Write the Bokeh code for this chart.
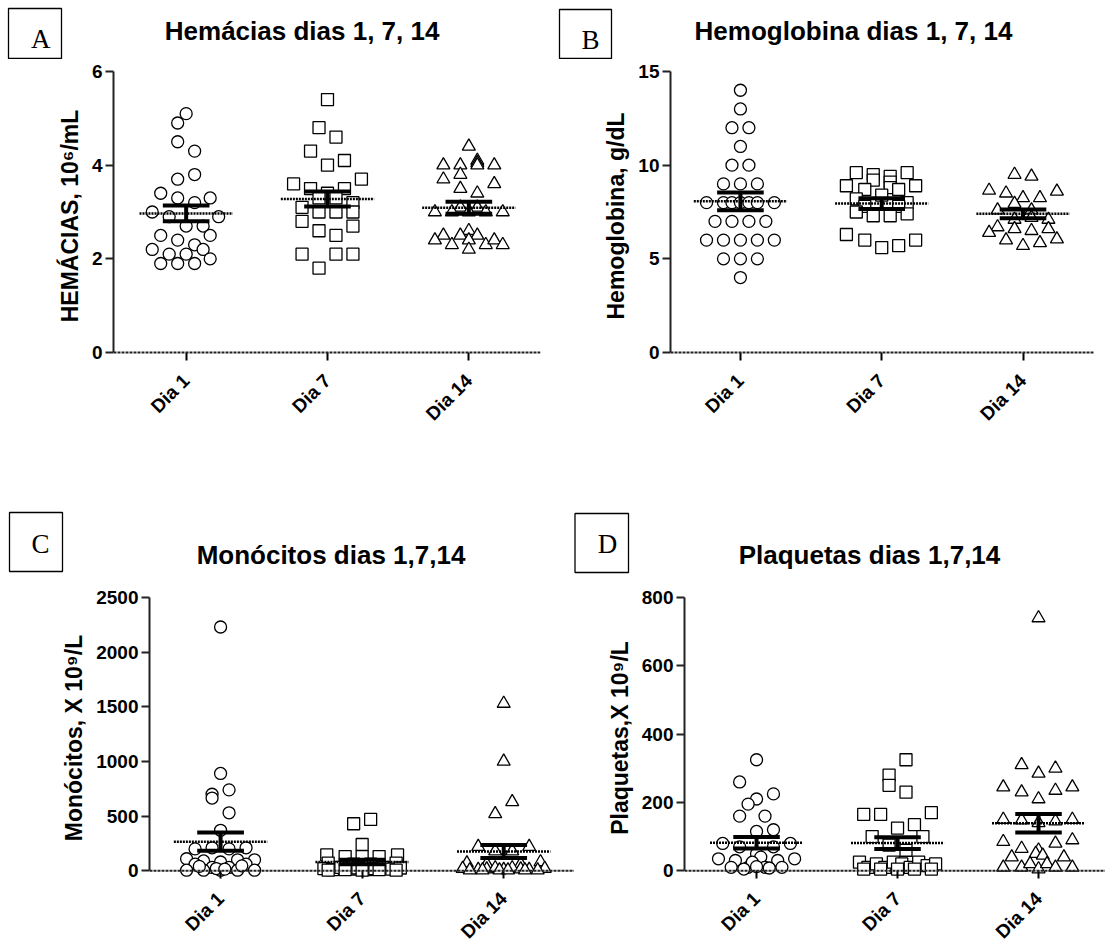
import math
from bokeh.plotting import figure
from bokeh.models import Range1d, FixedTicker, Span
from bokeh.layouts import column, row
from bokeh.core.properties import value
from bokeh.embed import file_html
from bokeh.resources import INLINE

categories = ["Dia 1", "Dia 7", "Dia 14"]

# ---------------- Panel A: Hemácias (10^6/mL) ----------------
hem_d1 = [5.1, 4.9, 4.5, 4.3, 3.8, 3.7, 3.4, 3.3, 3.3, 3.2, 3.0, 2.9, 2.9, 2.7, 2.7,
          2.5, 2.5, 2.4, 2.3, 2.2, 2.2, 2.1, 2.1, 2.0, 1.9, 1.9, 1.9]
hem_d1_jit = [0, -0.06, -0.06, 0.06, 0.06, -0.06, -0.18, -0.06, 0.17, 0.06, -0.24, -0.12, 0.23, 0, 0.12,
              -0.18, 0.17, -0.06, 0.06, -0.24, 0.12, -0.12, 0, 0.17, -0.18, -0.06, 0.06]
hem_d7 = [5.4, 4.8, 4.6, 4.3, 4.1, 4.0, 3.7, 3.6, 3.5, 3.5, 3.4, 3.3, 3.3, 3.2, 3.1, 3.0, 3.0, 3.0,
          2.8, 2.7, 2.6, 2.5, 2.1, 2.1, 2.1, 1.8]
hem_d7_jit = [0, -0.06, 0.06, -0.12, 0.12, 0, 0.24, -0.24, -0.12, 0.12, 0, -0.06, 0.06, 0.18, -0.18, -0.06, 0.06, 0.18,
              -0.18, 0.18, -0.06, 0.06, -0.18, 0.06, 0.18, -0.06]
hem_d14 = [4.4, 4.1, 4.05, 4.0, 4.0, 4.0, 4.0, 3.7, 3.8, 3.6, 3.5, 3.4, 3.1, 3.1, 3.0, 3.0, 3.0, 3.0, 3.0,
           2.5, 2.4, 2.6, 2.5, 2.5, 2.3, 2.4, 2.3, 2.4, 2.3, 2.2]
hem_d14_jit = [0, 0.06, 0.06, -0.18, -0.06, 0.06, 0.18, -0.18, -0.06, 0.18, -0.06, 0.06, -0.06, 0.06, -0.24, 0.24, -0.12, 0, 0.12,
               -0.18, -0.24, 0, -0.06, 0.06, -0.12, 0, 0.12, 0.18, 0.24, 0]
hem_mean = [2.97, 3.28, 3.09]
hem_sem = [0.17, 0.16, 0.13]

# ---------------- Panel B: Hemoglobina (g/dL) ----------------
hgb_d1 = [14, 13, 12, 12, 11, 10, 10, 9, 9, 9, 8, 8, 8, 8, 8, 8, 8, 7, 7, 7, 7, 6, 6, 6, 6, 6, 5, 5, 5, 4]
hgb_d1_jit = [0, 0, -0.06, 0.06, 0, -0.06, 0.06, -0.12, 0, 0.12, -0.24, -0.12, -0.06, 0, 0.06, 0.12, 0.24,
              -0.18, -0.06, 0.06, 0.18, -0.24, -0.12, 0, 0.12, 0.24, -0.12, 0, 0.12, 0]
hgb_d7 = [9.6, 9.5, 9.2, 9.4, 9.1, 8.8, 9.6, 8.9, 8.9, 8.7, 8.7, 8.4, 8.2, 8.0, 7.8, 7.8, 7.5, 7.4, 7.3, 7.3,
          6.3, 6.0, 5.6, 5.7, 6.0]
hgb_d7_jit = [-0.18, -0.06, -0.06, 0.06, 0.06, 0.06, 0.18, -0.25, 0.24, -0.12, 0.12, 0, -0.18, 0.18, -0.12, 0.12,
              -0.18, 0.18, -0.06, 0.06, -0.25, -0.12, 0, 0.12, 0.24]
hgb_d14 = [9.5, 9.4, 8.65, 8.5, 8.25, 8.25, 8.6, 7.95, 7.6, 7.6, 7.1, 7.2, 7.1, 6.7, 6.6, 6.5, 6.6, 6.4,
           6.0, 5.7, 5.85, 6.05]
hgb_d14_jit = [-0.06, 0.06, -0.24, -0.12, 0, 0.12, 0.24, -0.06, -0.18, 0.06, -0.06, 0.06, 0.18, -0.18, -0.06, 0.06, 0.18, -0.24,
               -0.12, 0, 0.12, 0.24]
hgb_mean = [8.07, 7.95, 7.40]
hgb_sem = [0.47, 0.29, 0.23]

# ---------------- Panel C: Monócitos (x 10^9/L) ----------------
mono_d1 = [2230, 890, 700, 665, 740, 530, 370, 200, 210, 200, 210, 110, 90, 80, 100, 100, 60, 60, 30, 30,
           5, 5, 5, 5, 5, 20, 15, 40, 45]
mono_d1_jit = [0, 0, -0.06, -0.06, 0.06, 0.06, 0, -0.18, -0.06, 0.06, 0.18, -0.24, -0.12, 0, 0.12, 0.24, -0.18, 0.18, -0.06, 0.06,
               -0.24, -0.12, 0, 0.12, 0.24, -0.03, 0.03, -0.15, 0.15]
mono_d7 = [430, 470, 240, 145, 130, 130, 130, 145, 70, 70, 60, 60, 20, 10, 30, 15, 25, 10, 20, 30, 15, 25,
           5, 10, 5, 10, 5]
mono_d7_jit = [-0.06, 0.06, 0, -0.25, -0.12, 0, 0.12, 0.25, -0.24, 0.24, -0.06, 0.06, -0.27, -0.21, -0.15, -0.09, -0.03, 0.03,
               0.09, 0.15, 0.21, 0.27, -0.24, -0.12, 0, 0.12, 0.24]
mono_d14 = [1530, 1000, 630, 520, 220, 220, 180, 180, 70, 80, 60, 60, 20, 10, 15, 25, 10, 25, 15, 10, 20,
            5, 5, 5, 5, 5, 5]
mono_d14_jit = [0, 0, 0.06, -0.06, -0.18, 0.18, -0.06, 0.06, -0.26, 0.26, -0.12, 0.12, -0.29, -0.18, -0.12, -0.06, 0, 0.06,
                0.12, 0.18, 0.29, -0.24, -0.15, -0.03, 0.03, 0.15, 0.24]
mono_mean = [266, 80, 176]
mono_sem = [84, 20, 60]

# ---------------- Panel D: Plaquetas (x 10^9/L) ----------------
plq_d1 = [325, 260, 225, 210, 195, 160, 160, 115, 120, 80, 80, 70, 70, 50, 35, 35, 30, 30, 40, 10, 10, 10, 10,
          25, 5, 8, 12]
plq_d1_jit = [0, -0.12, 0.12, 0, -0.06, -0.12, 0.06, 0, 0.12, -0.24, 0.24, -0.12, 0.12, 0, -0.27, 0.27, -0.15, 0.15,
              0.03, -0.18, -0.06, 0.06, 0.18, -0.03, -0.09, 0.09, 0.0]
plq_d7 = [325, 280, 250, 230, 165, 165, 170, 135, 125, 100, 100, 75, 60, 25, 10, 20, 10, 25, 20, 10, 25, 15, 20,
          5, 5, 5, 5, 5]
plq_d7_jit = [0.06, -0.06, -0.06, 0.06, -0.24, -0.12, 0.24, 0.12, 0, -0.18, 0.18, -0.06, 0.06, -0.27, -0.21, -0.15, -0.09,
              -0.03, 0.03, 0.09, 0.15, 0.21, 0.27, -0.24, -0.12, 0, 0.12, 0.24]
plq_d14 = [740, 310, 300, 285, 245, 230, 235, 245, 210, 150, 148, 145, 150, 140, 85, 90, 80, 65, 60, 50, 45, 40, 40,
           10, 10, 20, 5, 20, 10, 10]
plq_d14_jit = [0, -0.12, 0.12, 0, -0.25, -0.12, 0.12, 0.24, 0, -0.25, -0.12, 0.12, 0.24, 0, -0.25, 0.24, 0.12, -0.12, 0,
               -0.02, 0.03, -0.19, 0.18, -0.25, -0.12, -0.06, 0, 0.06, 0.12, 0.24]
plq_mean = [82, 81, 139]
plq_sem = [17, 17, 27]

panel_titles = ["Hemácias dias 1, 7, 14", "Hemoglobina dias 1, 7, 14",
                "Monócitos dias 1,7,14", "Plaquetas dias 1,7,14"]
panel_letters = ["A", "B", "C", "D"]

FONT = "Liberation Sans"
MARKERS = ["circle", "square", "triangle"]
MSIZE = {"circle": 12, "square": 12, "triangle": 13}


def strip(W, H, titles, tpos, letters, lpos, boxes):
    """Full-width header strip (pixel coordinates): boxed panel letters + bold titles."""
    s = figure(width=W, height=H, x_range=Range1d(0, W), y_range=Range1d(H, 0),
               output_backend="svg", toolbar_location=None, min_border=0,
               x_axis_type=None, y_axis_type=None)
    s.outline_line_color = None
    s.grid.visible = False
    s.background_fill_color = "white"
    s.border_fill_color = "white"
    s.quad(left=[b[0] for b in boxes], right=[b[2] for b in boxes],
           top=[b[1] for b in boxes], bottom=[b[3] for b in boxes],
           fill_color="white", line_color="black", line_width=1.3)
    s.text(x=[p[0] for p in lpos], y=[p[1] for p in lpos], text=letters,
           text_align="center", text_baseline="middle",
           text_font=value("Liberation Serif"), text_font_size="27px", text_color="black")
    s.text(x=[p[0] for p in tpos], y=[p[1] for p in tpos], text=titles,
           text_align="center", text_baseline="middle",
           text_font=value(FONT), text_font_style="bold", text_font_size="26px", text_color="black")
    return s


def panel(ylabel, ytop, yticks, groups, jits, means, sems,
          W, H, mbl, mbr, mbt, mbb, xr, lstand):
    ext = 8
    frame_h = H - mbt - mbb
    ystart = -ytop * ext / (frame_h - ext)
    p = figure(width=W, height=H, x_range=Range1d(xr[0], xr[1]), y_range=Range1d(ystart, ytop),
               output_backend="svg", toolbar_location=None,
               min_border_left=mbl, min_border_right=mbr, min_border_top=mbt, min_border_bottom=mbb)
    p.outline_line_color = None
    p.grid.visible = False
    p.background_fill_color = "white"
    p.border_fill_color = "white"

    xa = p.xaxis[0]
    xa.ticker = FixedTicker(ticks=[1, 2, 3])
    xa.major_label_overrides = {1: categories[0], 2: categories[1], 3: categories[2]}
    xa.axis_line_color = None
    xa.major_tick_in = 8
    xa.major_tick_out = 0
    xa.major_tick_line_width = 2
    xa.major_tick_line_color = "black"
    xa.minor_tick_line_color = None
    xa.major_label_orientation = math.pi / 4
    xa.major_label_standoff = 17
    xa.major_label_text_font = FONT
    xa.major_label_text_font_style = "bold"
    xa.major_label_text_font_size = "19px"
    xa.major_label_text_color = "black"

    ya = p.yaxis[0]
    ya.ticker = FixedTicker(ticks=yticks)
    ya.bounds = (0, ytop)
    ya.axis_line_width = 2
    ya.axis_line_color = "#222222"
    ya.major_tick_out = 8
    ya.major_tick_in = 0
    ya.major_tick_line_width = 2
    ya.major_tick_line_color = "#222222"
    ya.minor_tick_line_color = None
    ya.major_label_standoff = 3
    ya.major_label_text_font = FONT
    ya.major_label_text_font_style = "bold"
    ya.major_label_text_font_size = "19px"
    ya.major_label_text_color = "black"
    ya.axis_label = ylabel
    ya.axis_label_standoff = lstand
    ya.axis_label_text_font = FONT
    ya.axis_label_text_font_style = "bold"
    ya.axis_label_text_font_size = "23px"
    ya.axis_label_text_color = "black"

    for i, (vals, jit) in enumerate(zip(groups, jits)):
        mk = MARKERS[i]
        xs = [i + 1 + j for j in jit]
        p.scatter(xs, vals, marker=mk, size=MSIZE[mk], fill_color="white",
                  line_color="black", line_width=1.3)

    cx = [i + 1 for i in range(len(means))]
    hi = [m + s for m, s in zip(means, sems)]
    lo = [m - s for m, s in zip(means, sems)]
    p.segment([c - 0.33 for c in cx], means, [c + 0.33 for c in cx], means,
              line_color="black", line_width=2.5, line_dash="2 1")
    p.segment([c - 0.165 for c in cx], hi, [c + 0.165 for c in cx], hi, line_color="black", line_width=4)
    p.segment([c - 0.165 for c in cx], lo, [c + 0.165 for c in cx], lo, line_color="black", line_width=4)
    p.segment(cx, lo, cx, hi, line_color="black", line_width=4)

    p.add_layout(Span(location=0, dimension="width", line_color="#222222", line_width=2, line_dash="3 1"))
    return p


s1 = strip(1105, 59, panel_titles[:2], [(301.6, 30), (853, 30)], panel_letters[:2],
           [(40.3, 38), (590, 39)], [(8, 8, 61, 58), (559, 9, 611, 58)])
s2 = strip(1105, 107, panel_titles[2:], [(330.5, 76), (869, 76)], panel_letters[2:],
           [(40, 65), (607, 65)], [(9, 34, 62, 93), (574.5, 35, 628, 94)])

pA = panel("HEMÁCIAS, 10⁶/mL", 6, [0, 2, 4, 6],
           [hem_d1, hem_d7, hem_d14], [hem_d1_jit, hem_d7_jit, hem_d14_jit], hem_mean, hem_sem,
           558, 419, 113, 18, 12, 118, (0.486, 3.507), 6)
pB = panel("Hemoglobina, g/dL", 15, [0, 5, 10, 15],
           [hgb_d1, hgb_d7, hgb_d14], [hgb_d1_jit, hgb_d7_jit, hgb_d14_jit], hgb_mean, hgb_sem,
           547, 419, 112, 11, 12, 118, (0.505, 3.506), 6)
pC = panel("Monócitos, X 10⁹/L", 2500, [0, 500, 1000, 1500, 2000, 2500],
           [mono_d1, mono_d7, mono_d14], [mono_d1_jit, mono_d7_jit, mono_d14_jit], mono_mean, mono_sem,
           574, 367, 149, 0, 12, 65, (0.498, 3.5), 6)
pD = panel("Plaquetas,X 10⁹/L", 800, [0, 200, 400, 600, 800],
           [plq_d1, plq_d7, plq_d14], [plq_d1_jit, plq_d7_jit, plq_d14_jit], plq_mean, plq_sem,
           531, 367, 110, 0, 12, 65, (0.489, 3.475), 6)

layout = column(s1, row(pA, pB), s2, row(pC, pD))
open("out.html", "w").write(file_html(layout, INLINE))
